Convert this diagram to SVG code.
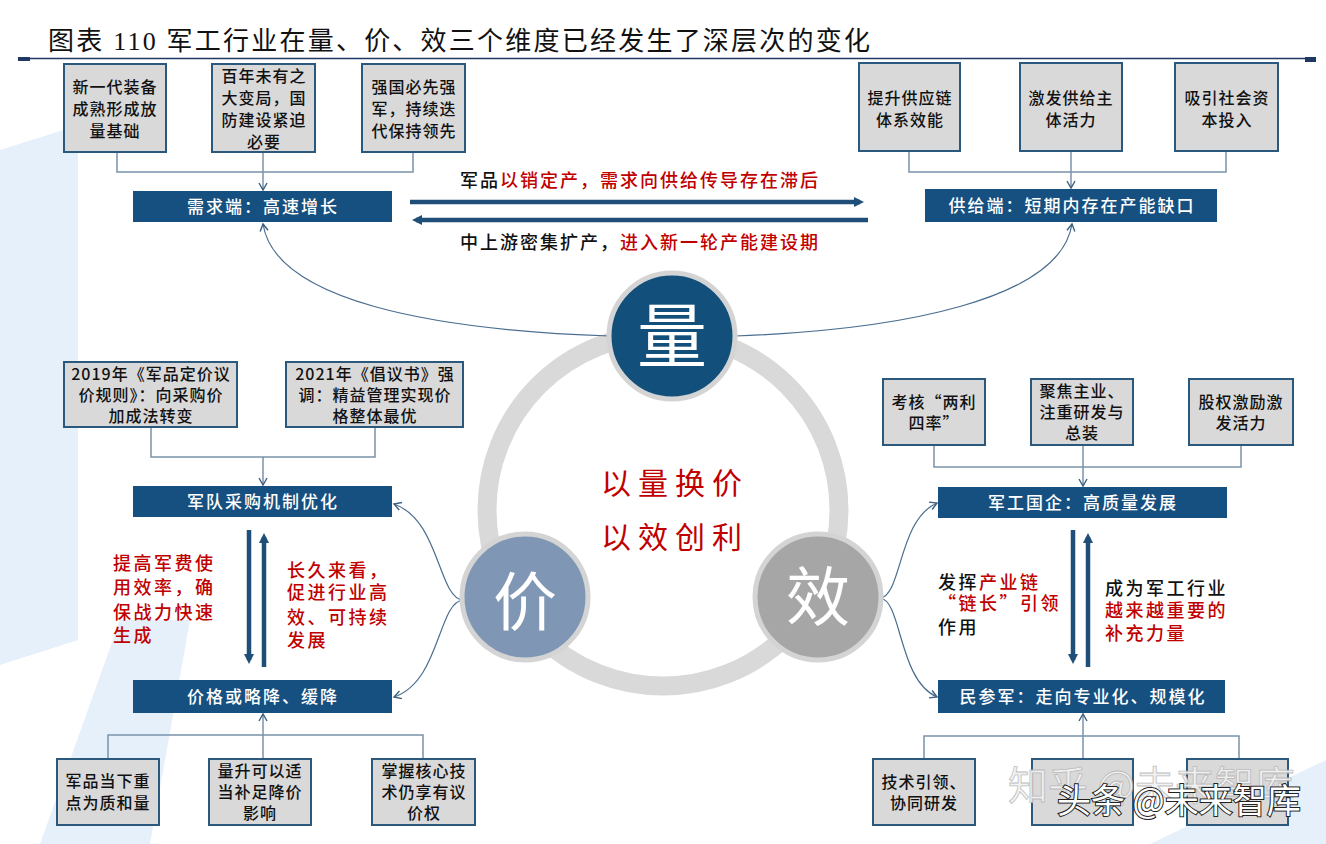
<svg xmlns="http://www.w3.org/2000/svg" width="1326" height="844" viewBox="0 0 1326 844">
<style>
text{font-family:"Noto Sans CJK SC","Noto Sans",sans-serif}
.box{fill:#d9d9d9;stroke:#2b587d;stroke-width:2}
.bt{font-size:16px;fill:#111;text-anchor:middle;letter-spacing:1px;font-weight:500}
.bar{fill:#165080}
.bart{font-size:17px;fill:#fff;text-anchor:middle;letter-spacing:2px;font-weight:500}
.conn{stroke:#7a92aa;stroke-width:1.5;fill:none}
.curve{stroke:#4a6e90;stroke-width:1.2;fill:none}
.big{stroke:#1f4e79;stroke-width:4.5;fill:none}
.red{fill:#c00000}
.blk{fill:#111}
.side{font-size:18px;letter-spacing:2.5px;font-weight:500}
.mid{font-size:18px;letter-spacing:2px;font-weight:500}
.ring{fill:none;stroke:#d9d9d9;stroke-width:19}
.dot{stroke:#d4d4d4;stroke-width:5}
.ch{fill:#fff;text-anchor:middle}
</style>
<defs>
<marker id="v" markerUnits="userSpaceOnUse" markerWidth="12" markerHeight="12" refX="10" refY="6" orient="auto">
<path d="M3,2 L10,6 L3,10" fill="none" stroke="#3d6080" stroke-width="1.4"/>
</marker>
<marker id="tri" markerUnits="userSpaceOnUse" markerWidth="12" markerHeight="12" refX="6" refY="6" orient="auto">
<path d="M0,1 L10,6 L0,11 Z" fill="#1f4e79"/>
</marker>
</defs>
<rect width="1326" height="844" fill="#fff"/>
<g id="bg" fill="#e6f0fa">
<polygon points="0,150 70,128 78,140 78,640 0,665"/>
<polygon points="40,844 120,620 190,620 150,844"/>
<polygon points="1150,844 1326,760 1326,844"/>
</g>
<g id="title">
<text x="48" y="50" font-size="26" fill="#111" textLength="822" lengthAdjust="spacing" style="font-family:'Liberation Serif','Noto Sans CJK SC',serif">图表 110 军工行业在量、价、效三个维度已经发生了深层次的变化</text>
<line x1="30" y1="58.5" x2="1316" y2="58.5" stroke="#1f3864" stroke-width="1.5"/>
<rect x="18" y="57" width="12" height="4" fill="#1f3864"/>
<rect x="1305" y="57" width="11" height="5" fill="#1f3864"/>
</g>
<g id="center">
<circle cx="663" cy="510" r="176" class="ring"/>
<text x="675" y="494" font-size="30" class="red" text-anchor="middle" letter-spacing="7">以量换价</text>
<text x="675" y="548" font-size="30" class="red" text-anchor="middle" letter-spacing="7">以效创利</text>
</g>
<g id="connectors">
<polyline class="conn" points="117,152 117,172 413,172 413,152"/>
<line class="conn" x1="263" y1="152" x2="263" y2="190" marker-end="url(#v)"/>
<polyline class="conn" points="909,151 909,172 1226,172 1226,151"/>
<line class="conn" x1="1071" y1="151" x2="1071" y2="188" marker-end="url(#v)"/>
<polyline class="conn" points="151,427 151,457 375,457 375,427"/>
<line class="conn" x1="263" y1="457" x2="263" y2="485" marker-end="url(#v)"/>
<polyline class="conn" points="934,445 934,467 1241,467 1241,445"/>
<line class="conn" x1="1083" y1="445" x2="1083" y2="486" marker-end="url(#v)"/>
<polyline class="conn" points="108,759 108,735 423,735 423,759"/>
<line class="conn" x1="263" y1="759" x2="263" y2="714" marker-end="url(#v)"/>
<polyline class="conn" points="924,759 924,736 1239,736 1239,759"/>
<line class="conn" x1="1083" y1="759" x2="1083" y2="714" marker-end="url(#v)"/>
<path class="curve" d="M610,336 C430,330 275,300 263,224" marker-end="url(#v)"/>
<path class="curve" d="M735,336 C900,330 1060,300 1072,224" marker-end="url(#v)"/>
<path class="curve" d="M463,600 C438,598 440,520 394,504" marker-end="url(#v)"/>
<path class="curve" d="M463,600 C438,602 440,682 394,697" marker-end="url(#v)"/>
<path class="curve" d="M880,598 C902,596 898,520 937,503" marker-end="url(#v)"/>
<path class="curve" d="M880,598 C902,600 898,680 937,697" marker-end="url(#v)"/>
<line class="big" x1="410" y1="202" x2="860" y2="202" marker-end="url(#tri)"/>
<line class="big" x1="868" y1="220" x2="416" y2="220" marker-end="url(#tri)"/>
<line class="big" x1="249" y1="530" x2="249" y2="660" marker-end="url(#tri)"/>
<line class="big" x1="264" y1="667" x2="264" y2="537" marker-end="url(#tri)"/>
<line class="big" x1="1073" y1="530" x2="1073" y2="660" marker-end="url(#tri)"/>
<line class="big" x1="1088" y1="667" x2="1088" y2="537" marker-end="url(#tri)"/>
</g>
<g id="circle-liang">
<circle cx="672" cy="336" r="63" fill="#124f7a" class="dot"/>
<text x="672" y="362" font-size="70" class="ch">量</text>
</g>
<g id="circle-jia">
<circle cx="525" cy="597" r="63" fill="#7f97b4" class="dot"/>
<text x="525" y="625" font-size="64" class="ch">价</text>
</g>
<g id="circle-xiao">
<circle cx="818" cy="597" r="63" fill="#a6a6a6" class="dot"/>
<text x="818" y="620" font-size="64" class="ch">效</text>
</g>
<g id="t1"><rect class="box" x="64" y="64" width="102" height="88"/><text class="bt"><tspan x="115" y="93">新一代装备</tspan><tspan x="115" y="115">成熟形成放</tspan><tspan x="115" y="137">量基础</tspan></text></g>
<g id="t2"><rect class="box" x="212" y="64" width="103" height="88"/><text class="bt"><tspan x="264" y="82">百年未有之</tspan><tspan x="264" y="104">大变局，国</tspan><tspan x="264" y="126">防建设紧迫</tspan><tspan x="264" y="148">必要</tspan></text></g>
<g id="t3"><rect class="box" x="362" y="64" width="103" height="88"/><text class="bt"><tspan x="414" y="93">强国必先强</tspan><tspan x="414" y="115">军，持续迭</tspan><tspan x="414" y="137">代保持领先</tspan></text></g>
<g id="t4"><rect class="box" x="859" y="63" width="101" height="88"/><text class="bt"><tspan x="910" y="104">提升供应链</tspan><tspan x="910" y="126">体系效能</tspan></text></g>
<g id="t5"><rect class="box" x="1020" y="63" width="102" height="88"/><text class="bt"><tspan x="1071" y="104">激发供给主</tspan><tspan x="1071" y="126">体活力</tspan></text></g>
<g id="t6"><rect class="box" x="1175" y="63" width="103" height="88"/><text class="bt"><tspan x="1227" y="104">吸引社会资</tspan><tspan x="1227" y="126">本投入</tspan></text></g>
<g id="bar-demand"><rect class="bar" x="133" y="191" width="259" height="31"/><text class="bart" x="263" y="213">需求端：高速增长</text></g>
<g id="bar-supply"><rect class="bar" x="925" y="189" width="292" height="33"/><text class="bart" x="1072" y="212">供给端：短期内存在产能缺口</text></g>
<g id="mid-labels">
<text x="460" y="187" class="mid"><tspan class="blk">军品</tspan><tspan class="red">以销定产，需求向供给传导存在滞后</tspan></text>
<text x="460" y="249" class="mid"><tspan class="blk">中上游密集扩产，</tspan><tspan class="red">进入新一轮产能建设期</tspan></text>
</g>
<g id="l1"><rect class="box" x="64" y="362" width="173" height="65"/><text class="bt"><tspan x="151" y="380">2019年《军品定价议</tspan><tspan x="151" y="401">价规则》：向采购价</tspan><tspan x="151" y="422">加成法转变</tspan></text></g>
<g id="l2"><rect class="box" x="286" y="362" width="177" height="65"/><text class="bt"><tspan x="375" y="380">2021年《倡议书》强</tspan><tspan x="375" y="401">调：精益管理实现价</tspan><tspan x="375" y="422">格整体最优</tspan></text></g>
<g id="bar-procure"><rect class="bar" x="133" y="486" width="259" height="31"/><text class="bart" x="263" y="508">军队采购机制优化</text></g>
<g id="side-left">
<text class="side red"><tspan x="113" y="570">提高军费使</tspan><tspan x="113" y="594">用效率，确</tspan><tspan x="113" y="619">保战力快速</tspan><tspan x="113" y="642">生成</tspan></text>
<text class="side red"><tspan x="287" y="577">长久来看，</tspan><tspan x="287" y="599">促进行业高</tspan><tspan x="287" y="624">效、可持续</tspan><tspan x="287" y="647">发展</tspan></text>
</g>
<g id="bar-price"><rect class="bar" x="133" y="680" width="259" height="33"/><text class="bart" x="263" y="703">价格或略降、缓降</text></g>
<g id="b1"><rect class="box" x="57" y="759" width="102" height="66"/><text class="bt"><tspan x="108" y="787">军品当下重</tspan><tspan x="108" y="809">点为质和量</tspan></text></g>
<g id="b2"><rect class="box" x="209" y="759" width="102" height="66"/><text class="bt"><tspan x="260" y="777">量升可以适</tspan><tspan x="260" y="798">当补足降价</tspan><tspan x="260" y="819">影响</tspan></text></g>
<g id="b3"><rect class="box" x="372" y="759" width="103" height="66"/><text class="bt"><tspan x="424" y="777">掌握核心技</tspan><tspan x="424" y="798">术仍享有议</tspan><tspan x="424" y="819">价权</tspan></text></g>
<g id="r1"><rect class="box" x="883" y="379" width="102" height="66"/><text class="bt"><tspan x="934" y="408">考核“两利</tspan><tspan x="934" y="429">四率”</tspan></text></g>
<g id="r2"><rect class="box" x="1031" y="379" width="102" height="66"/><text class="bt"><tspan x="1082" y="397">聚焦主业、</tspan><tspan x="1082" y="418">注重研发与</tspan><tspan x="1082" y="439">总装</tspan></text></g>
<g id="r3"><rect class="box" x="1189" y="379" width="104" height="66"/><text class="bt"><tspan x="1241" y="408">股权激励激</tspan><tspan x="1241" y="429">发活力</tspan></text></g>
<g id="bar-soe"><rect class="bar" x="938" y="487" width="289" height="31"/><text class="bart" x="1083" y="509">军工国企：高质量发展</text></g>
<g id="side-right">
<text class="side"><tspan x="938" y="589" class="blk">发挥</tspan><tspan x="979" y="589" class="red">产业链</tspan><tspan x="938" y="610" class="red">“链长”引领</tspan><tspan x="938" y="634" class="blk">作用</tspan></text>
<text class="side"><tspan x="1105" y="595" class="blk">成为军工行业</tspan><tspan x="1105" y="617" class="red">越来越重要的</tspan><tspan x="1105" y="640" class="red">补充力量</tspan></text>
</g>
<g id="bar-civil"><rect class="bar" x="938" y="680" width="287" height="33"/><text class="bart" x="1083" y="703">民参军：走向专业化、规模化</text></g>
<g id="br1"><rect class="box" x="873" y="759" width="102" height="66"/><text class="bt"><tspan x="924" y="788">技术引领、</tspan><tspan x="924" y="809">协同研发</tspan></text></g>
<g id="br2"><rect class="box" x="1032" y="759" width="101" height="66"/></g>
<g id="br3"><rect class="box" x="1187" y="759" width="101" height="66"/></g>
<g id="watermark">
<text x="1008" y="800" font-size="40" fill="#f2f2f2" stroke="#b8b8b8" stroke-width="0.8" opacity="0.9">知乎 @未来智库</text>
<text x="1057" y="813" font-size="34" fill="#fff" stroke="#222" stroke-width="2" style="paint-order:stroke">头条 @未来智库</text>
</g>
</svg>
